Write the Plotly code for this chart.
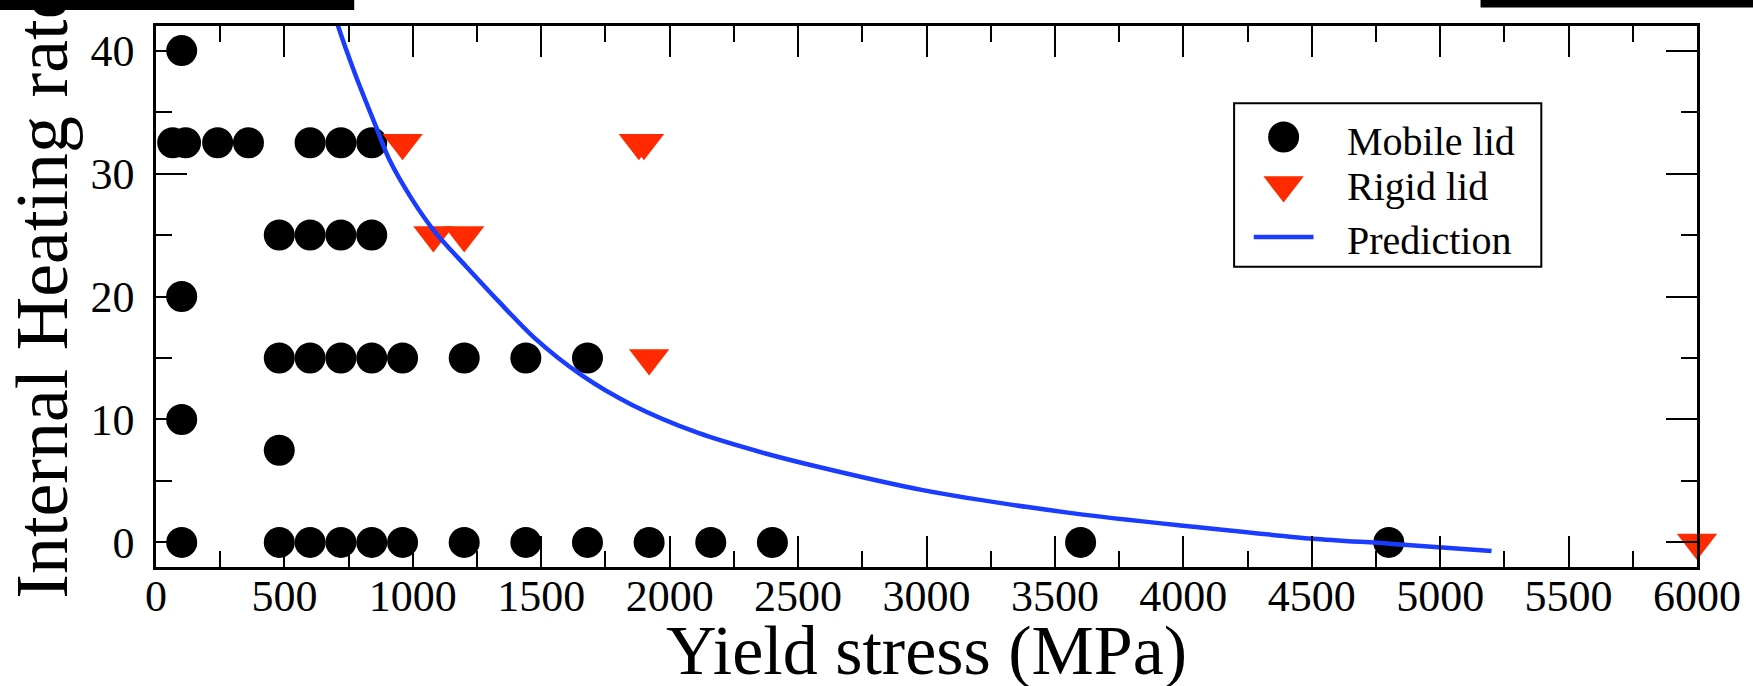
import plotly.graph_objects as go

# ---------------- data ----------------
mobile_x = [100,
            65, 115, 240, 360, 600, 720, 840,
            480, 600, 720, 840,
            100,
            480, 600, 720, 840, 960, 1200, 1440, 1680,
            100,
            480,
            100, 480, 600, 720, 840, 960, 1200, 1440, 1680, 1920, 2160, 2400, 3600, 4800]
mobile_y = [40,
            32.5, 32.5, 32.5, 32.5, 32.5, 32.5, 32.5,
            25, 25, 25, 25,
            20,
            15, 15, 15, 15, 15, 15, 15, 15,
            10,
            7.5,
            0, 0, 0, 0, 0, 0, 0, 0, 0, 0, 0, 0, 0, 0]

rigid_x = [960, 1080, 1200, 1880, 1900, 1920, 6000]
rigid_y = [32.5, 25, 25, 32.5, 32.5, 15, 0]

pred_x = [690, 706, 777, 855, 907, 997, 1088, 1205, 1334, 1470, 1657, 1852, 2111,
          2370, 2577, 2986, 3580, 4052, 4504, 4803, 5200]
pred_y = [43.4, 42.2, 38.0, 33.9, 31.2, 27.9, 25.2, 22.5, 19.6, 16.7, 13.6, 11.2, 8.9,
          7.25, 6.15, 4.25, 2.34, 1.25, 0.3, -0.1, -0.7]

x_tick_vals = [0, 500, 1000, 1500, 2000, 2500, 3000, 3500, 4000, 4500, 5000, 5500, 6000]
y_tick_vals = [0, 10, 20, 30, 40]
legend_labels = ["Mobile lid", "Rigid lid", "Prediction"]
x_title = "Yield stress (MPa)"
y_title = "Internal Heating rate"

# ---------------- layout geometry ----------------
W, H = 1753, 686
L, R, T, B = 156, 50, 26, 119.3
PW, PH = W - L - R, H - T - B


def px(x):
    return (x - L) / PW


def py(y):
    return (H - B - y) / PH


BLACK = "#000000"
RED = "#ff2a00"
BLUE = "#1a3cff"
FONT = "Liberation Serif, Times New Roman, serif"

fig = go.Figure()
fig.add_trace(go.Scatter(x=mobile_x, y=mobile_y, mode="markers", name=legend_labels[0],
                         marker=dict(symbol="circle", size=31, color=BLACK),
                         cliponaxis=False, showlegend=False))
fig.add_trace(go.Scatter(x=rigid_x, y=rigid_y, mode="markers", name=legend_labels[1],
                         marker=dict(symbol="triangle-down", size=35, color=RED),
                         cliponaxis=False, showlegend=False))
fig.add_trace(go.Scatter(x=pred_x, y=pred_y, mode="lines", name=legend_labels[2],
                         line=dict(color=BLUE, width=4.5, shape="spline", smoothing=0.8),
                         showlegend=False))

# legend symbols on a hidden overlay axis pair with [0,1] ranges (plot-area fractions)
fig.add_trace(go.Scatter(x=[px(1288)], y=[py(137)], xaxis="x2", yaxis="y2", mode="markers",
                         marker=dict(symbol="circle", size=31, color=BLACK),
                         showlegend=False, hoverinfo="skip"))
fig.add_trace(go.Scatter(x=[px(1288)], y=[py(185)], xaxis="x2", yaxis="y2", mode="markers",
                         marker=dict(symbol="triangle-down", size=35, color=RED),
                         showlegend=False, hoverinfo="skip"))
fig.add_trace(go.Scatter(x=[px(1258), px(1318)], y=[py(237), py(237)], xaxis="x2", yaxis="y2",
                         mode="lines", line=dict(color=BLUE, width=4.5),
                         showlegend=False, hoverinfo="skip"))

axis_common = dict(
    showgrid=False, zeroline=False, showline=True, linecolor=BLACK, linewidth=2.5,
    mirror="ticks", ticks="inside", tickcolor=BLACK, tickwidth=2, ticklen=31,
    tickfont=dict(family=FONT, size=44, color=BLACK),
)

fig.update_layout(
    width=W, height=H,
    margin=dict(l=L, r=R, t=T, b=B, pad=0),
    paper_bgcolor="white", plot_bgcolor="white",
    showlegend=False,
    font=dict(family=FONT, color=BLACK),
    xaxis=dict(range=[0, 6000], tickmode="array", tickvals=x_tick_vals,
               ticktext=[str(v) for v in x_tick_vals], ticklabelstandoff=-12,
               minor=dict(dtick=250, tick0=0, ticks="inside", ticklen=16, tickwidth=2, tickcolor=BLACK),
               **axis_common),
    yaxis=dict(range=[-2, 42], tickmode="array", tickvals=y_tick_vals,
               ticktext=[str(v) for v in y_tick_vals], ticklabelstandoff=10,
               minor=dict(dtick=5, tick0=0, ticks="inside", ticklen=16, tickwidth=2, tickcolor=BLACK),
               **axis_common),
    xaxis2=dict(range=[0, 1], overlaying="x", anchor="y2", visible=False, fixedrange=True),
    yaxis2=dict(range=[0, 1], overlaying="y", anchor="x2", visible=False, fixedrange=True),
    shapes=[
        dict(type="rect", xref="paper", yref="paper", layer="below",
             x0=px(1238.3), x1=px(1546.7), y0=py(266.7), y1=py(103.3),
             line=dict(color=BLACK, width=2), fillcolor="white"),
        dict(type="rect", xref="paper", yref="paper",
             x0=px(-5), x1=px(355), y0=py(10), y1=py(-5),
             line=dict(width=0), fillcolor=BLACK),
        dict(type="rect", xref="paper", yref="paper",
             x0=px(1485.7), x1=px(1760), y0=py(7.5), y1=py(-5),
             line=dict(width=0), fillcolor=BLACK),
    ],
    annotations=[
        dict(text=legend_labels[0], xref="paper", yref="paper", x=px(1350), y=py(141),
             xanchor="left", yanchor="middle", showarrow=False, font=dict(family=FONT, size=40, color=BLACK)),
        dict(text=legend_labels[1], xref="paper", yref="paper", x=px(1350), y=py(186),
             xanchor="left", yanchor="middle", showarrow=False, font=dict(family=FONT, size=40, color=BLACK)),
        dict(text=legend_labels[2], xref="paper", yref="paper", x=px(1350), y=py(240),
             xanchor="left", yanchor="middle", showarrow=False, font=dict(family=FONT, size=40, color=BLACK)),
        dict(text=x_title, xref="paper", yref="paper", x=0.5, y=py(650),
             xanchor="center", yanchor="middle", showarrow=False, font=dict(family=FONT, size=70, color=BLACK)),
        dict(text=y_title, xref="paper", yref="paper", x=px(42), y=py(600),
             xanchor="center", yanchor="bottom", textangle=-90, showarrow=False,
             font=dict(family=FONT, size=74, color=BLACK)),
    ],
)

fig.write_html("out.html")
